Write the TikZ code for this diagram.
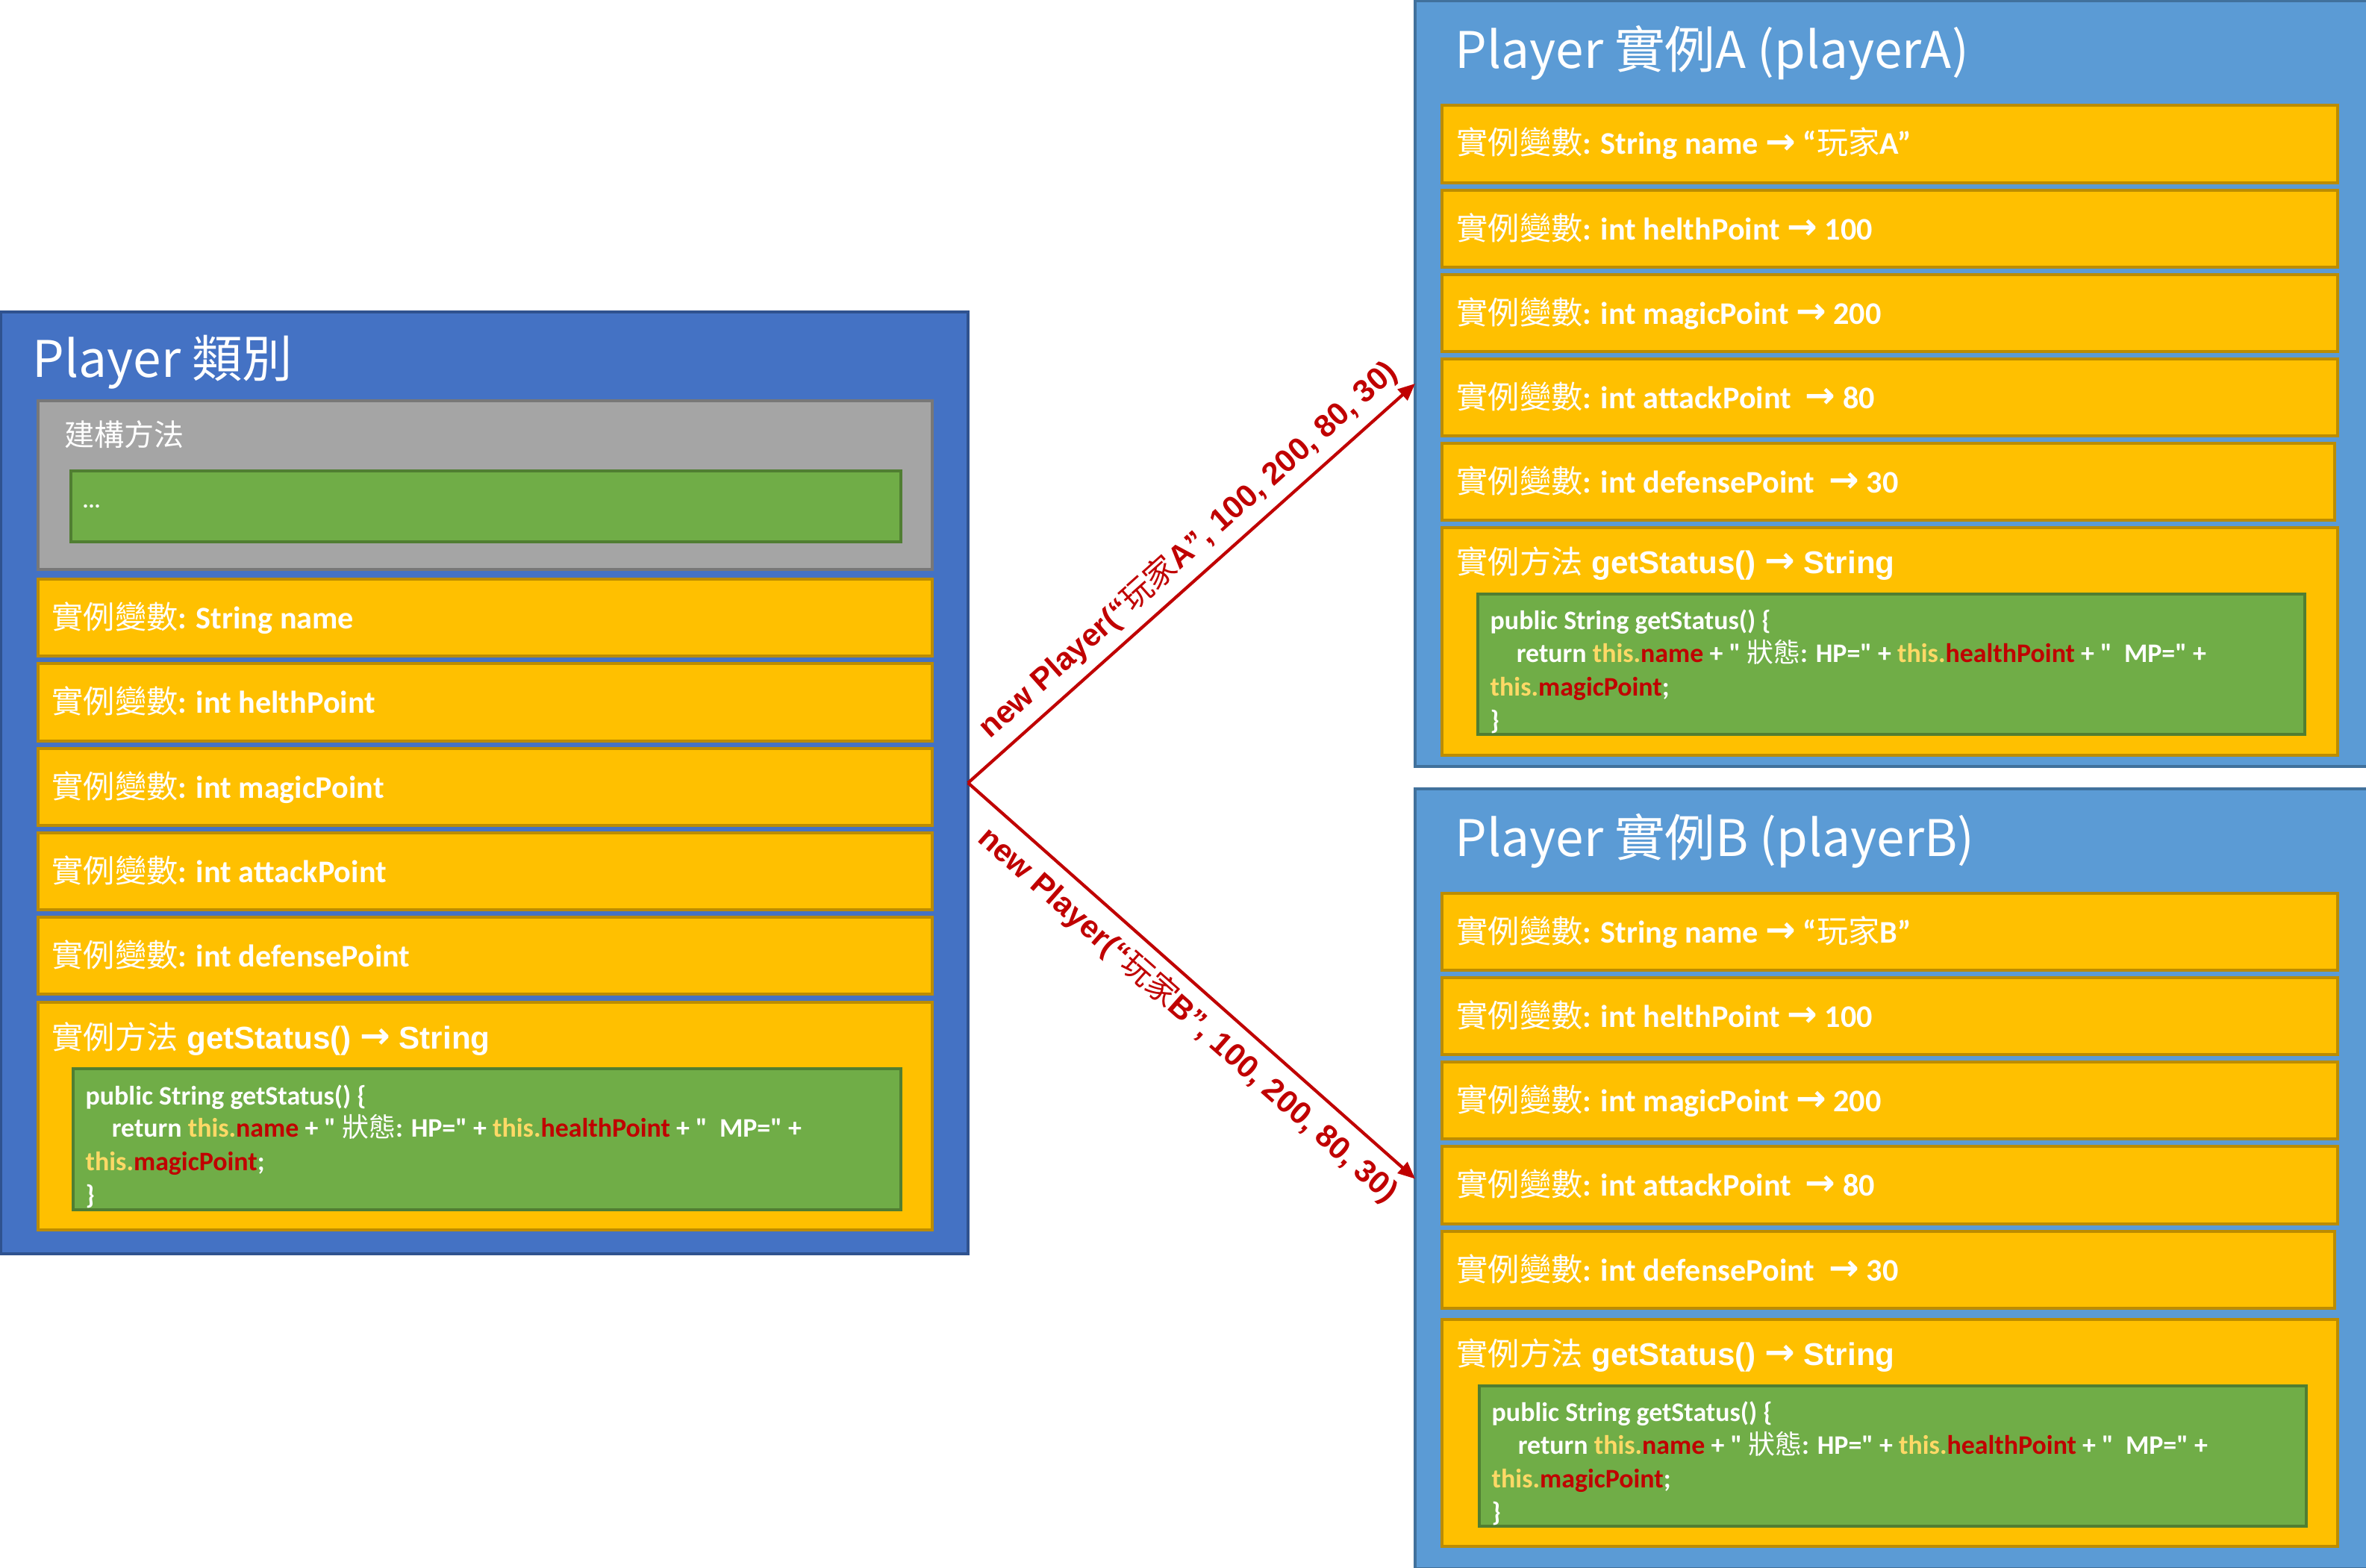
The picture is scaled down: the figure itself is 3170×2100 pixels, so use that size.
\documentclass[tikz,border=0pt]{standalone}
\usepackage{fontspec}
\setmainfont{Carlito}
\newfontfamily\codef{Carlito}
\newfontfamily\cjk{Noto Sans CJK TC}
\newfontfamily\lab{Liberation Sans}
\newfontfamily\arrf{DejaVu Sans}
\usetikzlibrary{arrows.meta,fit}
\definecolor{clsfill}{HTML}{4472C4}
\definecolor{clsborder}{HTML}{2F528F}
\definecolor{insfill}{HTML}{5B9BD5}
\definecolor{insborder}{HTML}{41719C}
\definecolor{greyfill}{HTML}{A5A5A5}
\definecolor{greyborder}{HTML}{787878}
\definecolor{yfill}{HTML}{FFC000}
\definecolor{yborder}{HTML}{BC8C00}
\definecolor{gfill}{HTML}{70AD47}
\definecolor{gborder}{HTML}{507E32}
\definecolor{arrred}{HTML}{C00000}
\definecolor{thiscol}{HTML}{FFD966}
\definecolor{fldcol}{HTML}{C00000}
\newcommand\C[1]{{\cjk\mdseries #1}}
\newcommand\rarr{{\arrf\bfseries\raisebox{0.02em}{\scalebox{1.15}{→}}}}
\newcommand\thisw{\textcolor{thiscol}{this.}}
\newcommand\fld[1]{\textcolor{fldcol}{#1}}
\tikzset{
  bx/.style={inner sep=0pt, outer sep=0pt, line width=0.9pt},
  clsbox/.style={bx, draw=clsborder, fill=clsfill},
  insbox/.style={bx, draw=insborder, fill=insfill},
  greybox/.style={bx, draw=greyborder, fill=greyfill},
  ybox/.style={bx, draw=yborder, fill=yfill},
  gbox/.style={bx, draw=gborder, fill=gfill},
  txt/.style={anchor=base west, inner sep=0pt, text=white},
  ttl/.style={txt, font=\cjk\fontsize{19.2pt}{22pt}\selectfont},
  rowt/.style={txt, font=\bfseries\fontsize{12pt}{14pt}\selectfont},
  ctort/.style={txt, font=\cjk\fontsize{11.4pt}{14pt}\selectfont},
  dotst/.style={txt, font=\bfseries\fontsize{8.5pt}{10pt}\selectfont},
  metht/.style={txt, font=\lab\bfseries\fontsize{12pt}{14pt}\selectfont},
  codet/.style={txt, font=\codef\bfseries\fontsize{10.2pt}{12pt}\selectfont},
  newarr/.style={draw=arrred, line width=1.2pt, -{Triangle[length=6.5pt,width=5.5pt]}},
  arrlab/.style={font=\lab\bfseries\fontsize{12pt}{14pt}\selectfont, text=arrred, sloped, inner sep=0pt, pos=0.5},
}
\begin{document}
\begin{tikzpicture}[x=0.01cm, y=-0.01cm]
\path[use as bounding box, fill=white] (0,0) rectangle (3170,2100);

% ---------- Player class ----------
\node[clsbox, fit={(1,418)(1297,1680)}] (L) {};
\node[ttl] (Lt) at (43,505) {Player 類別};
\node[greybox, fit={(51,537)(1249,763)}] (ctor) {};
\node[ctort] (ctorT) at (86,597) {建構方法};
\node[gbox, fit={(95,631)(1207,726)}] (ctorG) {};
\node[dotst] (dots) at (110,680) {...};

\node[ybox, fit={(51,776)(1249,879)}] (L1) {};
\node[rowt] (L1t) at (69,842) {\C{實例變數}: String name};
\node[ybox, fit={(51,889)(1249,993)}] (L2) {};
\node[rowt] (L2t) at (69,955) {\C{實例變數}: int helthPoint};
\node[ybox, fit={(51,1003)(1249,1106)}] (L3) {};
\node[rowt] (L3t) at (69,1069) {\C{實例變數}: int magicPoint};
\node[ybox, fit={(51,1116)(1249,1219)}] (L4) {};
\node[rowt] (L4t) at (69,1182) {\C{實例變數}: int attackPoint};
\node[ybox, fit={(51,1229)(1249,1332)}] (L5) {};
\node[rowt] (L5t) at (69,1295) {\C{實例變數}: int defensePoint};
\node[ybox, fit={(51,1343)(1249,1648)}] (LM) {};
\node[metht] (LMt) at (69,1405) {\C{實例方法} getStatus() \rarr{} String};
\node[gbox, fit={(98,1432)(1207,1621)}] (LMg) {};
\node[codet] (LMc1) at (114,1480) {public String getStatus() \{};
\node[codet] (LMc2) at (114,1523) {\hspace*{10pt}return \thisw\fld{name} + " \C{狀態}: HP=" + \thisw\fld{healthPoint} + "~~MP=" +};
\node[codet] (LMc3) at (114,1568) {\thisw\fld{magicPoint};};
\node[codet] (LMc4) at (114,1613) {\}};

% ---------- Instance A ----------
\node[insbox, fit={(1896,1)(3180,1027)}] (A) {};
\node[ttl] (At) at (1949,92) {Player 實例A (playerA)};
\node[ybox, fit={(1932,141)(3132,245)}] (A1) {};
\node[rowt] (A1t) at (1951,207) {\C{實例變數}: String name \rarr{} “\C{玩家}A”};
\node[ybox, fit={(1932,255)(3132,358)}] (A2) {};
\node[rowt] (A2t) at (1951,321) {\C{實例變數}: int helthPoint \rarr{} 100};
\node[ybox, fit={(1932,368)(3132,471)}] (A3) {};
\node[rowt] (A3t) at (1951,434) {\C{實例變數}: int magicPoint \rarr{} 200};
\node[ybox, fit={(1932,481)(3132,584)}] (A4) {};
\node[rowt] (A4t) at (1951,547) {\C{實例變數}: int attackPoint~~\rarr{} 80};
\node[ybox, fit={(1932,594)(3128,697)}] (A5) {};
\node[rowt] (A5t) at (1951,660) {\C{實例變數}: int defensePoint~~\rarr{} 30};
\node[ybox, fit={(1932,707)(3132,1012)}] (AM) {};
\node[metht] (AMt) at (1951,768) {\C{實例方法} getStatus() \rarr{} String};
\node[gbox, fit={(1980,796)(3088,984)}] (AMg) {};
\node[codet] (AMc1) at (1996,843) {public String getStatus() \{};
\node[codet] (AMc2) at (1996,887) {\hspace*{10pt}return \thisw\fld{name} + " \C{狀態}: HP=" + \thisw\fld{healthPoint} + "~~MP=" +};
\node[codet] (AMc3) at (1996,932) {\thisw\fld{magicPoint};};
\node[codet] (AMc4) at (1996,977) {\}};

% ---------- Instance B ----------
\node[insbox, fit={(1896,1057)(3180,2102)}] (B) {};
\node[ttl] (Bt) at (1949,1147) {Player 實例B (playerB)};
\node[ybox, fit={(1932,1197)(3132,1300)}] (B1) {};
\node[rowt] (B1t) at (1951,1263) {\C{實例變數}: String name \rarr{} “\C{玩家}B”};
\node[ybox, fit={(1932,1310)(3132,1413)}] (B2) {};
\node[rowt] (B2t) at (1951,1376) {\C{實例變數}: int helthPoint \rarr{} 100};
\node[ybox, fit={(1932,1423)(3132,1526)}] (B3) {};
\node[rowt] (B3t) at (1951,1489) {\C{實例變數}: int magicPoint \rarr{} 200};
\node[ybox, fit={(1932,1536)(3132,1640)}] (B4) {};
\node[rowt] (B4t) at (1951,1602) {\C{實例變數}: int attackPoint~~\rarr{} 80};
\node[ybox, fit={(1932,1650)(3128,1753)}] (B5) {};
\node[rowt] (B5t) at (1951,1716) {\C{實例變數}: int defensePoint~~\rarr{} 30};
\node[ybox, fit={(1932,1768)(3132,2072)}] (BM) {};
\node[metht] (BMt) at (1951,1829) {\C{實例方法} getStatus() \rarr{} String};
\node[gbox, fit={(1982,1857)(3090,2045)}] (BMg) {};
\node[codet] (BMc1) at (1998,1904) {public String getStatus() \{};
\node[codet] (BMc2) at (1998,1948) {\hspace*{10pt}return \thisw\fld{name} + " \C{狀態}: HP=" + \thisw\fld{healthPoint} + "~~MP=" +};
\node[codet] (BMc3) at (1998,1993) {\thisw\fld{magicPoint};};
\node[codet] (BMc4) at (1998,2038) {\}};

% ---------- connectors ----------
\draw[newarr] (L.east) -- node[arrlab, xshift=7.5pt, yshift=10.5pt] (labA) {new Player(“\C{玩家}A”, 100, 200, 80, 30)} (A.west);
\draw[newarr] (L.east) -- node[arrlab, xshift=7.5pt, yshift=-10.5pt] (labB) {new Player(“\C{玩家}B”, 100, 200, 80, 30)} (B.west);
\end{tikzpicture}
\end{document}
